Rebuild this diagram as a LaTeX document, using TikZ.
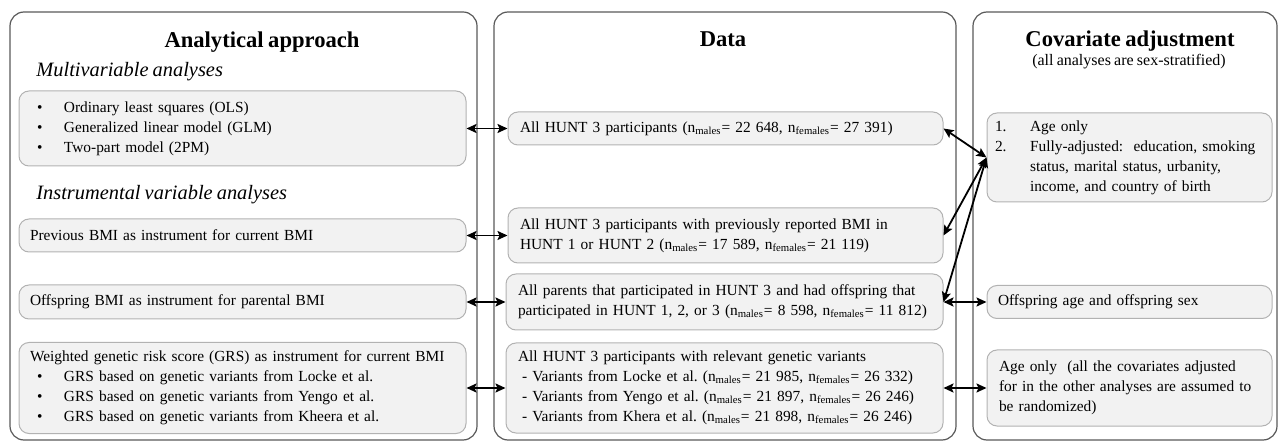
\documentclass[tikz,border=0pt]{standalone}
\usepackage{fontspec}
\setmainfont{Liberation Serif}[WordSpace=0.8]
\usetikzlibrary{arrows.meta}
\frenchspacing
\newcommand{\bul}{\makebox[13.5pt][l]{\textbullet}}
\newcommand{\nm}{n\textsubscript{males}}
\newcommand{\nf}{n\textsubscript{females}}
\begin{document}
\begin{tikzpicture}[x=0.5pt, y=-0.5pt,
    panel/.style={draw=black!65, line width=0.6pt, rounded corners=7pt, inner sep=0pt, minimum width=#1, minimum height=214pt},
    box/.style={draw=black!30, fill=black!5, line width=0.5pt, rounded corners=5pt, inner xsep=4pt, inner ysep=0pt, align=left, font=\fontsize{7.7}{10}\selectfont},
    head/.style={font=\fontsize{11.3}{13}\selectfont\bfseries, anchor=base, inner sep=0pt},
    sub/.style={font=\fontsize{10.2}{12}\selectfont\itshape, anchor=base west, inner sep=0pt},
    arr/.style={{Stealth[length=5pt,width=4.5pt,inset=1pt]}-{Stealth[length=5pt,width=4.5pt,inset=1pt]}, line width=0.9pt}]
        \useasboundingbox (0,0) rectangle (1280,443);
        \node [panel=233.5pt] (p1) at (243.5,226) {};
        \node [panel=231pt] (p2) at (725,226) {};
        \node [panel=152pt] (p3) at (1125,226) {};
        \node [head] (h1) at (262,48) {Analytical approach};
        \node [head] (h2) at (723,47) {Data};
        \node [head] (h3) at (1130,47) {Covariate adjustment};
        \node [anchor=base, inner sep=0pt, font=\fontsize{8}{10}\selectfont] (h4) at (1129,66) {(all analyses are sex-stratified)};
        \node [sub] (s1) at (36,77) {Multivariable analyses};
        \node [sub] (s2) at (36,200) {Instrumental variable analyses};
        % analytical approach
        \node [box, text width=215.5pt, minimum height=37.5pt] (1) at (242.5,128.5) {\hspace*{5pt}\bul Ordinary least squares (OLS)\\ \hspace*{5pt}\bul Generalized linear model (GLM)\\ \hspace*{5pt}\bul Two-part model (2PM)};
        \node [box, text width=215.5pt, minimum height=16.5pt] (2) at (242.5,235.5) {\hspace*{1.5pt}Previous BMI as instrument for current BMI};
        \node [box, text width=215.5pt, minimum height=17pt] (3) at (242.5,302) {\hspace*{1.5pt}Offspring BMI as instrument for parental BMI};
        \node [box, text width=215.5pt, minimum height=45.5pt] (4) at (242.5,388) {\hspace*{1.5pt}Weighted genetic risk score (GRS) as instrument for current BMI\\ \hspace*{5pt}\bul GRS based on genetic variants from Locke et al.\\ \hspace*{5pt}\bul GRS based on genetic variants from Yengo et al.\\ \hspace*{5pt}\bul GRS based on genetic variants from Kheera et al.};
        % data
        \node [box, text width=209.5pt, minimum height=16.5pt] (5) at (725.5,128.5) {\hspace*{2pt}All HUNT 3 participants (\nm= 22 648, \nf= 27 391)};
        \node [box, text width=209.5pt, minimum height=27.5pt] (6) at (725.5,235.5) {\hspace*{2pt}All HUNT 3 participants with previously reported BMI in\\ \hspace*{2pt}HUNT 1 or HUNT 2 (\nm= 17 589, \nf= 21 119)};
        \node [box, text width=210.5pt, minimum height=28pt] (7) at (724.5,302) {\hspace*{2pt}All parents that participated in HUNT 3 and had offspring that\\ \hspace*{2pt}participated in HUNT 1, 2, or 3 (\nm= 8 598, \nf= 11 812)};
        \node [box, text width=210.5pt, minimum height=45pt] (8) at (724.5,388) {\hspace*{2pt}All HUNT 3 participants with relevant genetic variants\\ \hspace*{4pt}- Variants from Locke et al. (\nm= 21 985, \nf= 26 332)\\ \hspace*{4pt}- Variants from Yengo et al. (\nm= 21 897, \nf= 26 246)\\ \hspace*{4pt}- Variants from Khera et al. (\nm= 21 898, \nf= 26 246)};
        % covariates
        \node [box, text width=134.5pt, minimum height=44.5pt] (9) at (1129.5,157.5) {\makebox[17.5pt][l]{1.}Age only\\ \makebox[17.5pt][l]{2.}Fully-adjusted:\ \ education, smoking\\ \hspace*{17.5pt}status, marital status, urbanity,\\ \hspace*{17.5pt}income, and country of birth};
        \node [box, text width=134.5pt, minimum height=16.5pt] (10) at (1129.5,302) {\hspace*{1.5pt}Offspring age and offspring sex};
        \node [box, text width=134.5pt, minimum height=38pt] (11) at (1129.5,388) {\hspace*{2pt}Age only\ \ (all the covariates adjusted\\ \hspace*{2pt}for in the other analyses are assumed to\\ \hspace*{2pt}be randomized)};
        \draw [arr] (1) -- (5);
        \draw [arr] (2) -- (6);
        \draw [arr] (3) -- (7);
        \draw [arr] (4) -- (8);
        \draw [arr] (7) -- (10);
        \draw [arr] (8) -- (11);
        \draw [arr] (9.west) -- (5.east);
        \draw [arr] (9.west) -- (6.east);
        \draw [arr] (9.west) -- (7.east);
      \end{tikzpicture}
\end{document}
